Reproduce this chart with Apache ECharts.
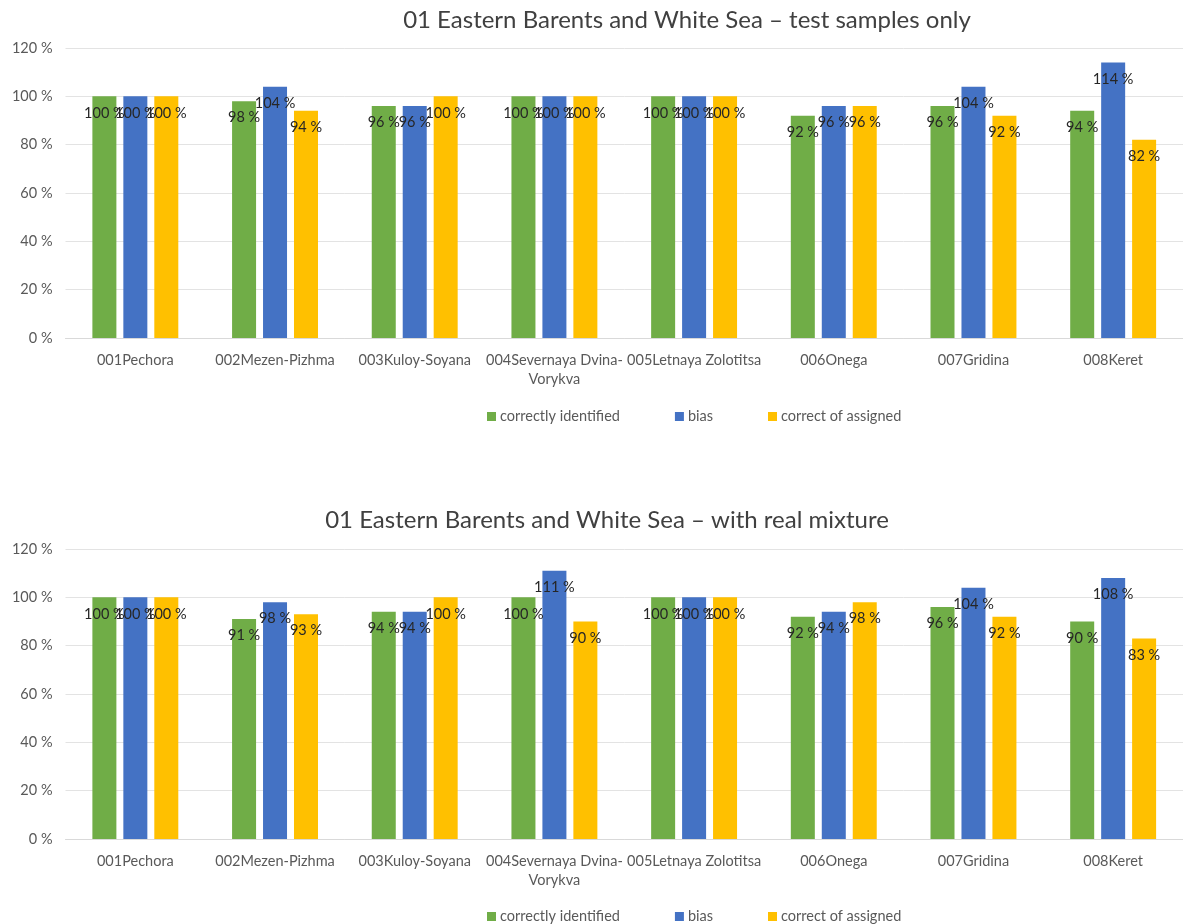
<!DOCTYPE html>
<html>
<head>
<meta charset="utf-8">
<script src="https://cdn.jsdelivr.net/npm/echarts@6/dist/echarts.min.js"></script>
<style>
  html, body { margin: 0; padding: 0; background: #fff; }
  #chart { width: 1183px; height: 924px; }
</style>
</head>
<body>
<div id="chart"></div>
<script>
// Rivers (reporting units)
const categories = [
  '001Pechora', '002Mezen-Pizhma', '003Kuloy-Soyana', '004Severnaya Dvina-\nVorykva',
  '005Letnaya Zolotitsa', '006Onega', '007Gridina', '008Keret'
];
const seriesNames = ['correctly identified', 'bias', 'correct of assigned'];
const titles = [
  '01 Eastern Barents and White Sea \u2013 test samples only',
  '01 Eastern Barents and White Sea \u2013 with real mixture'
];
const yTicks = [0, 20, 40, 60, 80, 100, 120];

// Test samples only
const testCorrect  = [100, 98, 96, 100, 100, 92, 96, 94];
const testBias     = [100, 104, 96, 100, 100, 96, 104, 114];
const testAssigned = [100, 94, 100, 100, 100, 96, 92, 82];

// With real mixture
const mixCorrect  = [100, 91, 94, 100, 100, 92, 96, 90];
const mixBias     = [100, 98, 94, 111, 100, 94, 104, 108];
const mixAssigned = [100, 93, 100, 90, 100, 98, 92, 83];

const colors = ['#70AD47', '#4472C4', '#FFC000'];
const FONT = 'Lato';

const chart = echarts.init(document.getElementById('chart'));

const grids = [
  { left: 65.5, right: -7, top: 48, height: 290 },
  { left: 65.5, right: -7, top: 549, height: 290 }
];

function xAxis(i) {
  return {
    type: 'category', gridIndex: i, data: categories,
    axisLine: { show: true, lineStyle: { color: '#d9d9d9' } },
    axisTick: { show: false },
    axisLabel: { interval: 0, margin: 13, color: '#595959', fontFamily: FONT, fontSize: 14.5, lineHeight: 19 }
  };
}
function yAxis(i) {
  return {
    type: 'value', gridIndex: i, min: yTicks[0], max: yTicks[yTicks.length - 1], interval: 20,
    axisLine: { show: false }, axisTick: { show: false },
    splitLine: { lineStyle: { color: '#e3e3e3' } },
    axisLabel: { margin: 13, color: '#595959', fontFamily: FONT, fontSize: 14.5, formatter: '{value} %' }
  };
}
function bar(name, data, idx, gi) {
  return {
    type: 'bar', name: name, data: data, xAxisIndex: gi, yAxisIndex: gi,
    barWidth: 24, barGap: '29%',
    itemStyle: { color: colors[idx] },
    label: {
      show: true, position: 'insideTop', distance: 9,
      color: '#262626', fontFamily: FONT, fontSize: 14.5,
      formatter: p => p.value + ' %'
    }
  };
}
function legend(top) {
  return {
    top: top, left: 482, itemWidth: 9, itemHeight: 9, itemGap: 55, icon: 'rect',
    data: seriesNames,
    textStyle: { color: '#595959', fontFamily: FONT, fontSize: 14.5, padding: [0, 0, 0, -1] }
  };
}

chart.setOption({
  animation: false,
  textStyle: { fontFamily: FONT },
  title: [
    { text: titles[0], left: 682, top: 3, textAlign: 'center',
      textStyle: { fontFamily: FONT, fontSize: 24, fontWeight: 'normal', color: '#404040' } },
    { text: titles[1], left: 602, top: 503, textAlign: 'center',
      textStyle: { fontFamily: FONT, fontSize: 24, fontWeight: 'normal', color: '#404040' } }
  ],
  legend: [legend(404), legend(904)],
  grid: grids,
  xAxis: [xAxis(0), xAxis(1)],
  yAxis: [yAxis(0), yAxis(1)],
  series: [
    bar(seriesNames[0], testCorrect, 0, 0),
    bar(seriesNames[1], testBias, 1, 0),
    bar(seriesNames[2], testAssigned, 2, 0),
    bar(seriesNames[0], mixCorrect, 0, 1),
    bar(seriesNames[1], mixBias, 1, 1),
    bar(seriesNames[2], mixAssigned, 2, 1)
  ]
});
</script>
</body>
</html>
